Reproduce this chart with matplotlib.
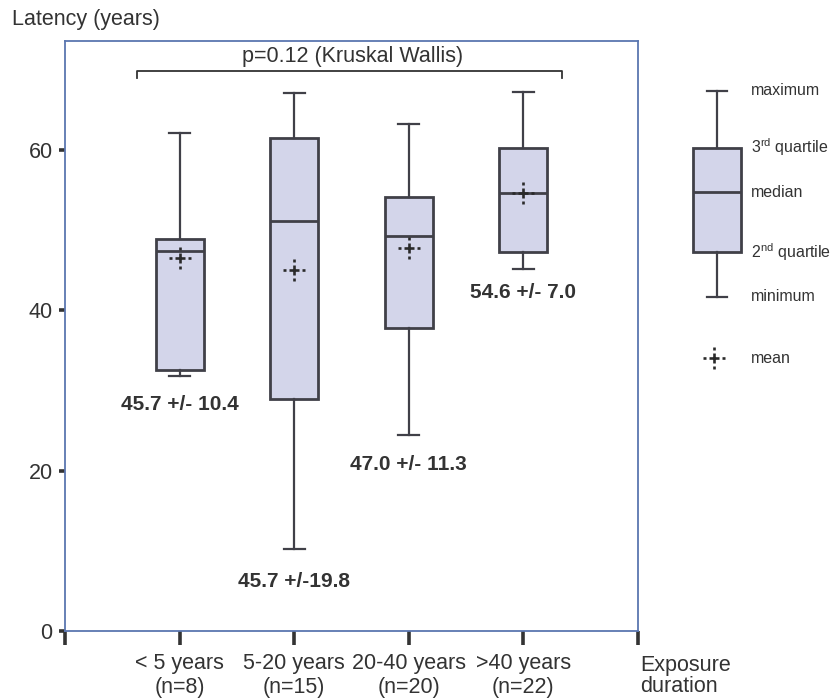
import matplotlib
matplotlib.use("Agg")
import matplotlib.pyplot as plt
from matplotlib.path import Path

plt.rcParams['font.family'] = ['Liberation Sans', 'DejaVu Sans']
plt.rcParams['mathtext.fontset'] = 'custom'
plt.rcParams['mathtext.rm'] = 'Liberation Sans'
plt.rcParams['mathtext.it'] = 'Liberation Sans'

# ---- data ----
categories = ["< 5 years\n(n=8)", "5-20 years\n(n=15)", "20-40 years\n(n=20)", ">40 years\n(n=22)"]
minimum = [31.8, 10.2, 24.4, 45.2]
q1 = [32.5, 28.9, 37.8, 47.3]
median = [47.4, 51.1, 49.3, 54.7]
q3 = [48.9, 61.5, 54.2, 60.3]
maximum = [62.1, 67.1, 63.2, 67.3]
means = [46.5, 45.0, 47.8, 54.7]
mean_sd_labels = ["45.7 +/- 10.4", "45.7 +/-19.8", "47.0 +/- 11.3", "54.6 +/- 7.0"]
label_y = [28.3, 6.2, 20.8, 42.2]
y_ticks = [0, 20, 40, 60]
p_text = "p=0.12 (Kruskal Wallis)"

# legend (schematic) values
leg_names = ["maximum", "3$^{\\rm rd}$ quartile", "median", "2$^{\\rm nd}$ quartile", "minimum"]
leg_vals = [67.4, 60.3, 54.75, 47.25, 41.7]
leg_mean = 34.0

box_face = '#d3d5ea'
box_edge = '#404048'
spine_col = '#5a76b0'
txt_col = '#333333'

# dashed-looking cross marker ("-+-")
_v = []
_c = []
for a, b in [(-1.0, -0.7), (-0.48, 0.48), (0.7, 1.0)]:
    _v += [(a, 0), (b, 0)]
    _c += [Path.MOVETO, Path.LINETO]
for a, b in [(-1.0, -0.7), (-0.48, 0.48), (0.7, 1.0)]:
    _v += [(0, a), (0, b)]
    _c += [Path.MOVETO, Path.LINETO]
mean_marker = Path(_v, _c)

W, H = 833, 698
fig = plt.figure(figsize=(W / 100, H / 100), dpi=100)
ax = fig.add_axes([65 / W, 1 - 631 / H, 573 / W, 590 / H])

pos = list(range(1, len(categories) + 1))
stats = []
for i in range(len(categories)):
    stats.append(dict(whislo=minimum[i], q1=q1[i], med=median[i], q3=q3[i],
                      whishi=maximum[i], fliers=[], mean=means[i]))

lw = 2.0
ax.bxp(stats, positions=pos, widths=0.42, capwidths=0.18, showfliers=False,
       patch_artist=True, manage_ticks=False,
       boxprops=dict(facecolor=box_face, edgecolor=box_edge, linewidth=lw),
       medianprops=dict(color=box_edge, linewidth=lw),
       whiskerprops=dict(color=box_edge, linewidth=1.6),
       capprops=dict(color=box_edge, linewidth=1.6))
ax.plot(pos, means, linestyle='none', marker=mean_marker, markersize=16,
        markeredgewidth=1.9, color='#2a2a2a', zorder=5)

for x, yv, s in zip(pos, label_y, mean_sd_labels):
    ax.text(x, yv, s, ha='center', va='center', fontsize=15,
            fontweight='bold', color=txt_col)

# bracket
bx0, bx1, by = 0.63, 4.34, 69.8
ax.plot([bx0, bx0, bx1, bx1], [by - 0.8, by, by, by - 0.8], color='#333333', lw=1.3)
ax.text((bx0 + bx1) / 2 + 0.02, by + 0.6, p_text, ha='center', va='bottom',
        fontsize=15.5, color=txt_col)

ax.set_xlim(0, 5)
ax.set_ylim(0, 73.6)
ax.set_xticks(range(0, 6))
ax.set_xticklabels([''] + categories + [''])
ax.set_yticks(y_ticks)
ax.set_yticklabels([str(v) for v in y_ticks])
ax.tick_params(axis='x', length=10, width=2.6, color='#333333', pad=6,
               labelsize=15.5, labelcolor=txt_col)
ax.tick_params(axis='y', length=4, width=2.6, color='#333333', pad=5,
               labelsize=15.5, labelcolor=txt_col)
for sp in ax.spines.values():
    sp.set_color(spine_col)
    sp.set_linewidth(1.3)
ax.text(5.02, -3.0, "Exposure\nduration", transform=ax.transData, ha='left',
        va='top', fontsize=15.5, color=txt_col, linespacing=1.0, clip_on=False)

fig.text(12 / W, 1 - 20 / H, "Latency (years)", ha='left', va='center',
         fontsize=15.5, color=txt_col)

# legend schematic axes
ax2 = fig.add_axes([(717 - 57.3) / W, 1 - 631 / H, 114.6 / W, 590 / H])
ax2.set_xlim(0.5, 1.5)
ax2.set_ylim(0, 73.6)
ax2.axis('off')
leg_stats = [dict(whislo=leg_vals[4], q1=leg_vals[3], med=leg_vals[2],
                  q3=leg_vals[1], whishi=leg_vals[0], fliers=[])]
ax2.bxp(leg_stats, positions=[1], widths=0.42, capwidths=0.18, showfliers=False,
        patch_artist=True, manage_ticks=False,
        boxprops=dict(facecolor=box_face, edgecolor=box_edge, linewidth=lw),
        medianprops=dict(color=box_edge, linewidth=lw),
        whiskerprops=dict(color=box_edge, linewidth=1.6),
        capprops=dict(color=box_edge, linewidth=1.6))
ax2.plot([0.97], [leg_mean], linestyle='none', marker=mean_marker, markersize=16,
         markeredgewidth=1.9, color='#2a2a2a')
for name, v in zip(leg_names + ["mean"], leg_vals + [leg_mean]):
    ax2.text(1.30, v, name, ha='left', va='center', fontsize=11.5,
             color=txt_col, clip_on=False)

fig.savefig("out.png", dpi=100)
